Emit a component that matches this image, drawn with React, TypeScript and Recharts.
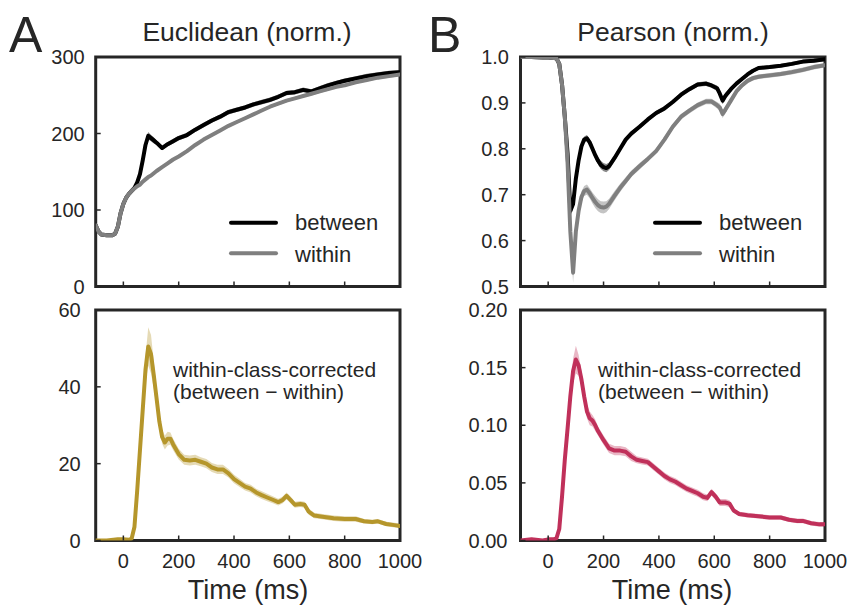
import React from 'react';
import { ComposedChart, Line, Area, XAxis, YAxis, ReferenceArea } from 'recharts';

const FONT = '"Liberation Sans", Arial, Helvetica, sans-serif';
const INK = '#262626';

// ---------- Panel A top: Euclidean ----------
const eucTimes = [-100, -90, -80, -60, -40, -30, -20, -10, 0, 10, 20, 30, 40, 50, 60, 70, 80, 90, 100, 110, 120, 140, 160, 180, 200, 230, 260, 290, 320, 350, 380, 410, 440, 470, 500, 530, 560, 590, 620, 650, 680, 710, 740, 770, 800, 840, 880, 920, 960, 1000];
const eucBetween = [80, 72, 68, 67, 67, 69, 78, 96, 108, 116, 121, 125, 129, 136, 147, 165, 185, 197, 194, 191, 188, 181, 186, 190, 194, 198, 205, 211, 217, 222, 228, 231, 234, 238, 241, 244, 248, 253, 254, 257, 255, 259, 263, 266, 269, 272, 275, 277, 279, 280];
const eucWithin = [80, 72, 68, 67, 67, 69, 78, 96, 108, 116, 121, 125, 128, 131, 133, 137, 140, 143, 145, 148, 151, 156, 161, 166, 170, 177, 185, 192, 198, 204, 210, 215, 220, 225, 230, 235, 239, 243, 246, 249, 252, 255, 258, 261, 263, 267, 270, 273, 275, 277];
const eucBetweenErr = [2, 2, 2, 2, 2, 2, 2, 2, 2, 2, 2, 2, 2, 3, 3, 4, 5, 5, 4, 4, 3, 3, 3, 3, 3, 3, 3, 3, 3, 3, 3, 3, 3, 3, 3, 3, 3, 3, 3, 3, 3, 3, 3, 3, 3, 3, 3, 3, 3, 3];
const eucWithinErr = [2, 2, 2, 2, 2, 2, 2, 2, 2, 2, 2, 2, 2, 2, 2, 2, 2, 2, 2, 2, 2, 2, 2, 2, 2, 2, 2, 2, 2, 2, 2, 2, 2, 2, 2, 2, 2, 2, 2, 2, 2, 2, 2, 2, 2, 2, 2, 2, 2, 2];

// ---------- Panel B top: Pearson ----------
const peaTimes = [-100, -60, -20, 0, 20, 30, 40, 50, 60, 70, 80, 90, 100, 110, 120, 130, 140, 150, 160, 170, 180, 190, 200, 210, 220, 240, 260, 280, 300, 330, 360, 390, 420, 450, 480, 510, 540, 570, 590, 610, 620, 630, 640, 660, 680, 700, 720, 740, 760, 800, 840, 880, 920, 960, 1000];
const peaBetween = [1.0, 1.0, 0.999, 0.999, 0.998, 0.997, 0.985, 0.94, 0.87, 0.79, 0.665, 0.68, 0.735, 0.775, 0.805, 0.82, 0.823, 0.814, 0.8, 0.786, 0.774, 0.765, 0.76, 0.758, 0.762, 0.78, 0.8, 0.82, 0.833, 0.848, 0.864, 0.878, 0.888, 0.902, 0.918, 0.93, 0.94, 0.942, 0.938, 0.932, 0.92, 0.905, 0.915, 0.93, 0.942, 0.952, 0.962, 0.97, 0.976, 0.978, 0.981, 0.985, 0.99, 0.992, 0.995];
const peaWithin = [1.0, 1.0, 0.999, 0.999, 0.998, 0.997, 0.985, 0.94, 0.87, 0.77, 0.62, 0.53, 0.62, 0.665, 0.695, 0.708, 0.711, 0.703, 0.693, 0.684, 0.677, 0.673, 0.672, 0.674, 0.68, 0.698, 0.715, 0.73, 0.745, 0.762, 0.778, 0.795, 0.82, 0.848, 0.87, 0.883, 0.895, 0.903, 0.903, 0.895, 0.89, 0.876, 0.885, 0.905, 0.925, 0.938, 0.948, 0.954, 0.957, 0.96, 0.963, 0.967, 0.972, 0.978, 0.982];
const peaBetweenErr = [0.002, 0.002, 0.002, 0.002, 0.002, 0.002, 0.004, 0.006, 0.008, 0.01, 0.012, 0.012, 0.01, 0.008, 0.007, 0.007, 0.007, 0.007, 0.007, 0.008, 0.008, 0.009, 0.009, 0.009, 0.008, 0.007, 0.006, 0.005, 0.005, 0.005, 0.005, 0.005, 0.005, 0.005, 0.005, 0.005, 0.005, 0.005, 0.005, 0.006, 0.007, 0.008, 0.007, 0.005, 0.004, 0.004, 0.004, 0.004, 0.004, 0.004, 0.004, 0.004, 0.004, 0.004, 0.004];
const peaWithinErr = [0.002, 0.002, 0.002, 0.002, 0.002, 0.002, 0.005, 0.008, 0.012, 0.016, 0.02, 0.022, 0.02, 0.016, 0.012, 0.011, 0.011, 0.011, 0.012, 0.013, 0.013, 0.013, 0.013, 0.012, 0.011, 0.01, 0.009, 0.008, 0.007, 0.007, 0.006, 0.006, 0.006, 0.006, 0.006, 0.006, 0.006, 0.006, 0.006, 0.007, 0.008, 0.009, 0.008, 0.006, 0.005, 0.005, 0.005, 0.005, 0.005, 0.005, 0.005, 0.005, 0.005, 0.005, 0.005];

// ---------- Bottom panels: within-class-corrected ----------
const corrTimes = [-100, -60, -20, 0, 20, 30, 40, 50, 60, 70, 80, 90, 100, 110, 120, 130, 140, 150, 160, 170, 180, 200, 220, 240, 260, 280, 300, 320, 340, 360, 380, 400, 420, 440, 460, 480, 500, 520, 540, 560, 575, 590, 605, 620, 640, 655, 670, 690, 720, 760, 800, 840, 870, 900, 920, 950, 980, 1000];
const eucCorrected = [0, 0, 0.3, 0.3, 0.2, 0.5, 3.5, 13, 23.5, 34, 44.5, 50.5, 48.5, 43, 37, 31, 27, 25.5, 26.5, 26.5, 25, 22.5, 21, 20.8, 21, 20.5, 20, 19, 18.5, 18.5, 17.5, 16, 15, 14, 13.5, 12.5, 11.8, 11.2, 10.6, 10, 10.5, 11.6, 10.5, 9.3, 9.5, 9.3, 7.5, 6.5, 6.2, 5.8, 5.6, 5.6, 5.0, 4.8, 5.0, 4.3, 4.0, 3.8];
const eucCorrectedErr = [0.3, 0.3, 0.3, 0.3, 0.3, 0.5, 1, 1.5, 2, 2.5, 3.5, 5, 5, 3.5, 2.5, 2, 1.8, 1.8, 1.8, 1.6, 1.5, 1.4, 1.3, 1.3, 1.3, 1.2, 1.2, 1.2, 1.2, 1.2, 1.1, 1.1, 1.1, 1.0, 1.0, 1.0, 1.0, 1.0, 0.9, 0.9, 0.9, 0.9, 0.9, 0.8, 0.8, 0.8, 0.8, 0.7, 0.7, 0.7, 0.7, 0.7, 0.6, 0.6, 0.6, 0.6, 0.6, 0.6];
const peaCorrected = [0, 0.001, 0, 0.001, 0.001, 0.002, 0.01, 0.038, 0.07, 0.097, 0.125, 0.147, 0.157, 0.152, 0.14, 0.125, 0.112, 0.106, 0.104, 0.1, 0.095, 0.087, 0.08, 0.078, 0.078, 0.077, 0.073, 0.07, 0.069, 0.068, 0.064, 0.06, 0.056, 0.053, 0.051, 0.048, 0.045, 0.043, 0.041, 0.038, 0.037, 0.042, 0.038, 0.033, 0.033, 0.032, 0.026, 0.023, 0.022, 0.021, 0.02, 0.02, 0.018, 0.017, 0.017, 0.015, 0.014, 0.014];
const peaCorrectedErr = [0.001, 0.001, 0.001, 0.001, 0.001, 0.001, 0.002, 0.004, 0.005, 0.006, 0.008, 0.011, 0.012, 0.009, 0.007, 0.006, 0.006, 0.006, 0.005, 0.005, 0.004, 0.004, 0.004, 0.004, 0.004, 0.004, 0.004, 0.003, 0.003, 0.003, 0.003, 0.003, 0.003, 0.003, 0.003, 0.003, 0.003, 0.003, 0.003, 0.003, 0.003, 0.003, 0.003, 0.003, 0.003, 0.003, 0.002, 0.002, 0.002, 0.002, 0.002, 0.002, 0.002, 0.002, 0.002, 0.002, 0.002, 0.002];

// ---------- ticks ----------
const timeTicks = [0, 200, 400, 600, 800, 1000];
const eucTicks = [0, 100, 200, 300];
const peaTicks = [0.5, 0.6, 0.7, 0.8, 0.9, 1.0];
const eucCorrTicks = [0, 20, 40, 60];
const peaCorrTicks = [0, 0.05, 0.1, 0.15, 0.2];

type Series = { key: string; values: number[]; err: number[]; color: string; band: string };

function XTick(props: any) {
  const { x, y, payload, showLabel } = props;
  return (
    <g>
      <line x1={x} x2={x} y1={y} y2={y - 5} stroke={INK} strokeWidth={1.5} />
      {showLabel ? (
        <text x={x} y={y + 27.5} textAnchor="middle" fontSize={20} fontFamily={FONT} fill={INK}>
          {payload.value}
        </text>
      ) : null}
    </g>
  );
}

function YTick(props: any) {
  const { x, y, payload, digits, gap } = props;
  return (
    <g>
      <line x1={x} x2={x + 5} y1={y} y2={y} stroke={INK} strokeWidth={1.5} />
      <text x={x - gap} y={y} dy="0.36em" textAnchor="end" fontSize={20} fontFamily={FONT} fill={INK}>
        {Number(payload.value).toFixed(digits)}
      </text>
    </g>
  );
}

function Panel(props: {
  left: number; top: number; width: number; height: number;
  margin: { top: number; right: number; bottom: number; left: number };
  times: number[]; series: Series[]; yDomain: [number, number]; yTicks: number[];
  digits: number; gap: number; showXLabels: boolean;
}) {
  const { left, top, width, height, margin, times, series, yDomain, yTicks, digits, gap, showXLabels } = props;
  const data = times.map((t, i) => {
    const row: any = { t };
    series.forEach((s) => {
      row[s.key] = s.values[i];
      row[s.key + '_band'] = [s.values[i] - s.err[i], s.values[i] + s.err[i]];
    });
    return row;
  });
  return (
    <div style={{ position: 'absolute', left, top, width, height }}>
      <ComposedChart width={width} height={height} data={data} margin={margin}>
        <XAxis
          dataKey="t" type="number" domain={[-100, 1000]} ticks={timeTicks} allowDataOverflow
          height={1} axisLine={false} tickLine={false} tickSize={0} tickMargin={0} interval={0}
          tick={(p: any) => <XTick {...p} showLabel={showXLabels} />}
        />
        <YAxis
          type="number" domain={yDomain} ticks={yTicks} allowDataOverflow
          width={1} axisLine={false} tickLine={false} tickSize={0} tickMargin={0} interval={0}
          tick={(p: any) => <YTick {...p} digits={digits} gap={gap} />}
        />
        {series.map((s) => (
          <Area key={s.key + '_band'} dataKey={s.key + '_band'} type="linear" stroke="none"
            fill={s.band} fillOpacity={1} isAnimationActive={false} activeDot={false} />
        ))}
        {series.map((s) => (
          <Line key={s.key} dataKey={s.key} type="linear" stroke={s.color} strokeWidth={4}
            dot={false} activeDot={false} isAnimationActive={false}
            strokeLinejoin="round" strokeLinecap="round" />
        ))}
        <ReferenceArea x1={-100} x2={1000} y1={yDomain[0]} y2={yDomain[1]}
          fill="none" fillOpacity={0} stroke={INK} strokeWidth={3} />
      </ComposedChart>
    </div>
  );
}

const GOLD = '#b5962b';
const GOLD_BAND = 'rgba(181,150,43,0.35)';
const CRIMSON = '#c0305a';
const CRIMSON_BAND = 'rgba(192,48,90,0.35)';

export default function App() {
  // plot box: top panels y 57..286.5, bottom panels y 310..540.5; left 95.7 / 520.5
  const topMargin = (l: number, r: number) => ({ top: 57, right: r, bottom: 300 - 286.5 - 1, left: l - 1 });
  const botMargin = (l: number, r: number) => ({ top: 10, right: r, bottom: 306 - 240.5 - 1, left: l - 1 });
  const txt = { fontFamily: FONT, fill: INK } as any;
  return (
    <div style={{ position: 'absolute', left: 0, top: 0, width: 848, height: 606, background: '#fff', fontFamily: FONT }}>
      <Panel left={0} top={0} width={424} height={300} margin={topMargin(95.7, 24)}
        times={eucTimes}
        series={[
          { key: 'between', values: eucBetween, err: eucBetweenErr, color: '#000000', band: '#8a8a8a' },
          { key: 'within', values: eucWithin, err: eucWithinErr, color: '#7f7f7f', band: '#c4c4c4' },
        ]}
        yDomain={[0, 300]} yTicks={eucTicks} digits={0} gap={11} showXLabels={false} />
      <Panel left={424} top={0} width={424} height={300} margin={topMargin(96.5, 23)}
        times={peaTimes}
        series={[
          { key: 'between', values: peaBetween, err: peaBetweenErr, color: '#000000', band: '#8a8a8a' },
          { key: 'within', values: peaWithin, err: peaWithinErr, color: '#7f7f7f', band: '#c4c4c4' },
        ]}
        yDomain={[0.5, 1.0]} yTicks={peaTicks} digits={1} gap={11.5} showXLabels={false} />
      <Panel left={0} top={300} width={424} height={306} margin={botMargin(95.7, 24)}
        times={corrTimes}
        series={[{ key: 'corr', values: eucCorrected, err: eucCorrectedErr, color: GOLD, band: GOLD_BAND }]}
        yDomain={[0, 60]} yTicks={eucCorrTicks} digits={0} gap={15} showXLabels={true} />
      <Panel left={424} top={300} width={424} height={306} margin={botMargin(96.5, 23)}
        times={corrTimes}
        series={[{ key: 'corr', values: peaCorrected, err: peaCorrectedErr, color: CRIMSON, band: CRIMSON_BAND }]}
        yDomain={[0, 0.2]} yTicks={peaCorrTicks} digits={2} gap={13} showXLabels={true} />

      <svg width={848} height={606} style={{ position: 'absolute', left: 0, top: 0, pointerEvents: 'none' }}>
        <text x={9} y={52} fontSize={50} {...txt}>A</text>
        <text x={428} y={52} fontSize={50} {...txt}>B</text>
        <text x={247} y={41} fontSize={26.5} textAnchor="middle" {...txt}>Euclidean (norm.)</text>
        <text x={673} y={41} fontSize={26.5} textAnchor="middle" {...txt}>Pearson (norm.)</text>

        <line x1={231} x2={276} y1={222.7} y2={222.7} stroke="#000" strokeWidth={4} strokeLinecap="round" />
        <text x={295} y={230} fontSize={22} {...txt}>between</text>
        <line x1={231} x2={276} y1={253.3} y2={253.3} stroke="#7f7f7f" strokeWidth={4} strokeLinecap="round" />
        <text x={295} y={261.5} fontSize={22} {...txt}>within</text>

        <line x1={655} x2={700} y1={222.7} y2={222.7} stroke="#000" strokeWidth={4} strokeLinecap="round" />
        <text x={719} y={230} fontSize={22} {...txt}>between</text>
        <line x1={655} x2={700} y1={253.3} y2={253.3} stroke="#7f7f7f" strokeWidth={4} strokeLinecap="round" />
        <text x={719} y={261.5} fontSize={22} {...txt}>within</text>

        <text x={173} y={377} fontSize={21} {...txt}>within-class-corrected</text>
        <text x={173} y={399} fontSize={21} {...txt}>(between − within)</text>
        <text x={598} y={377} fontSize={21} {...txt}>within-class-corrected</text>
        <text x={598} y={399} fontSize={21} {...txt}>(between − within)</text>

        <text x={248} y={599} fontSize={27} textAnchor="middle" {...txt}>Time (ms)</text>
        <text x={672} y={599} fontSize={27} textAnchor="middle" {...txt}>Time (ms)</text>
      </svg>
    </div>
  );
}
